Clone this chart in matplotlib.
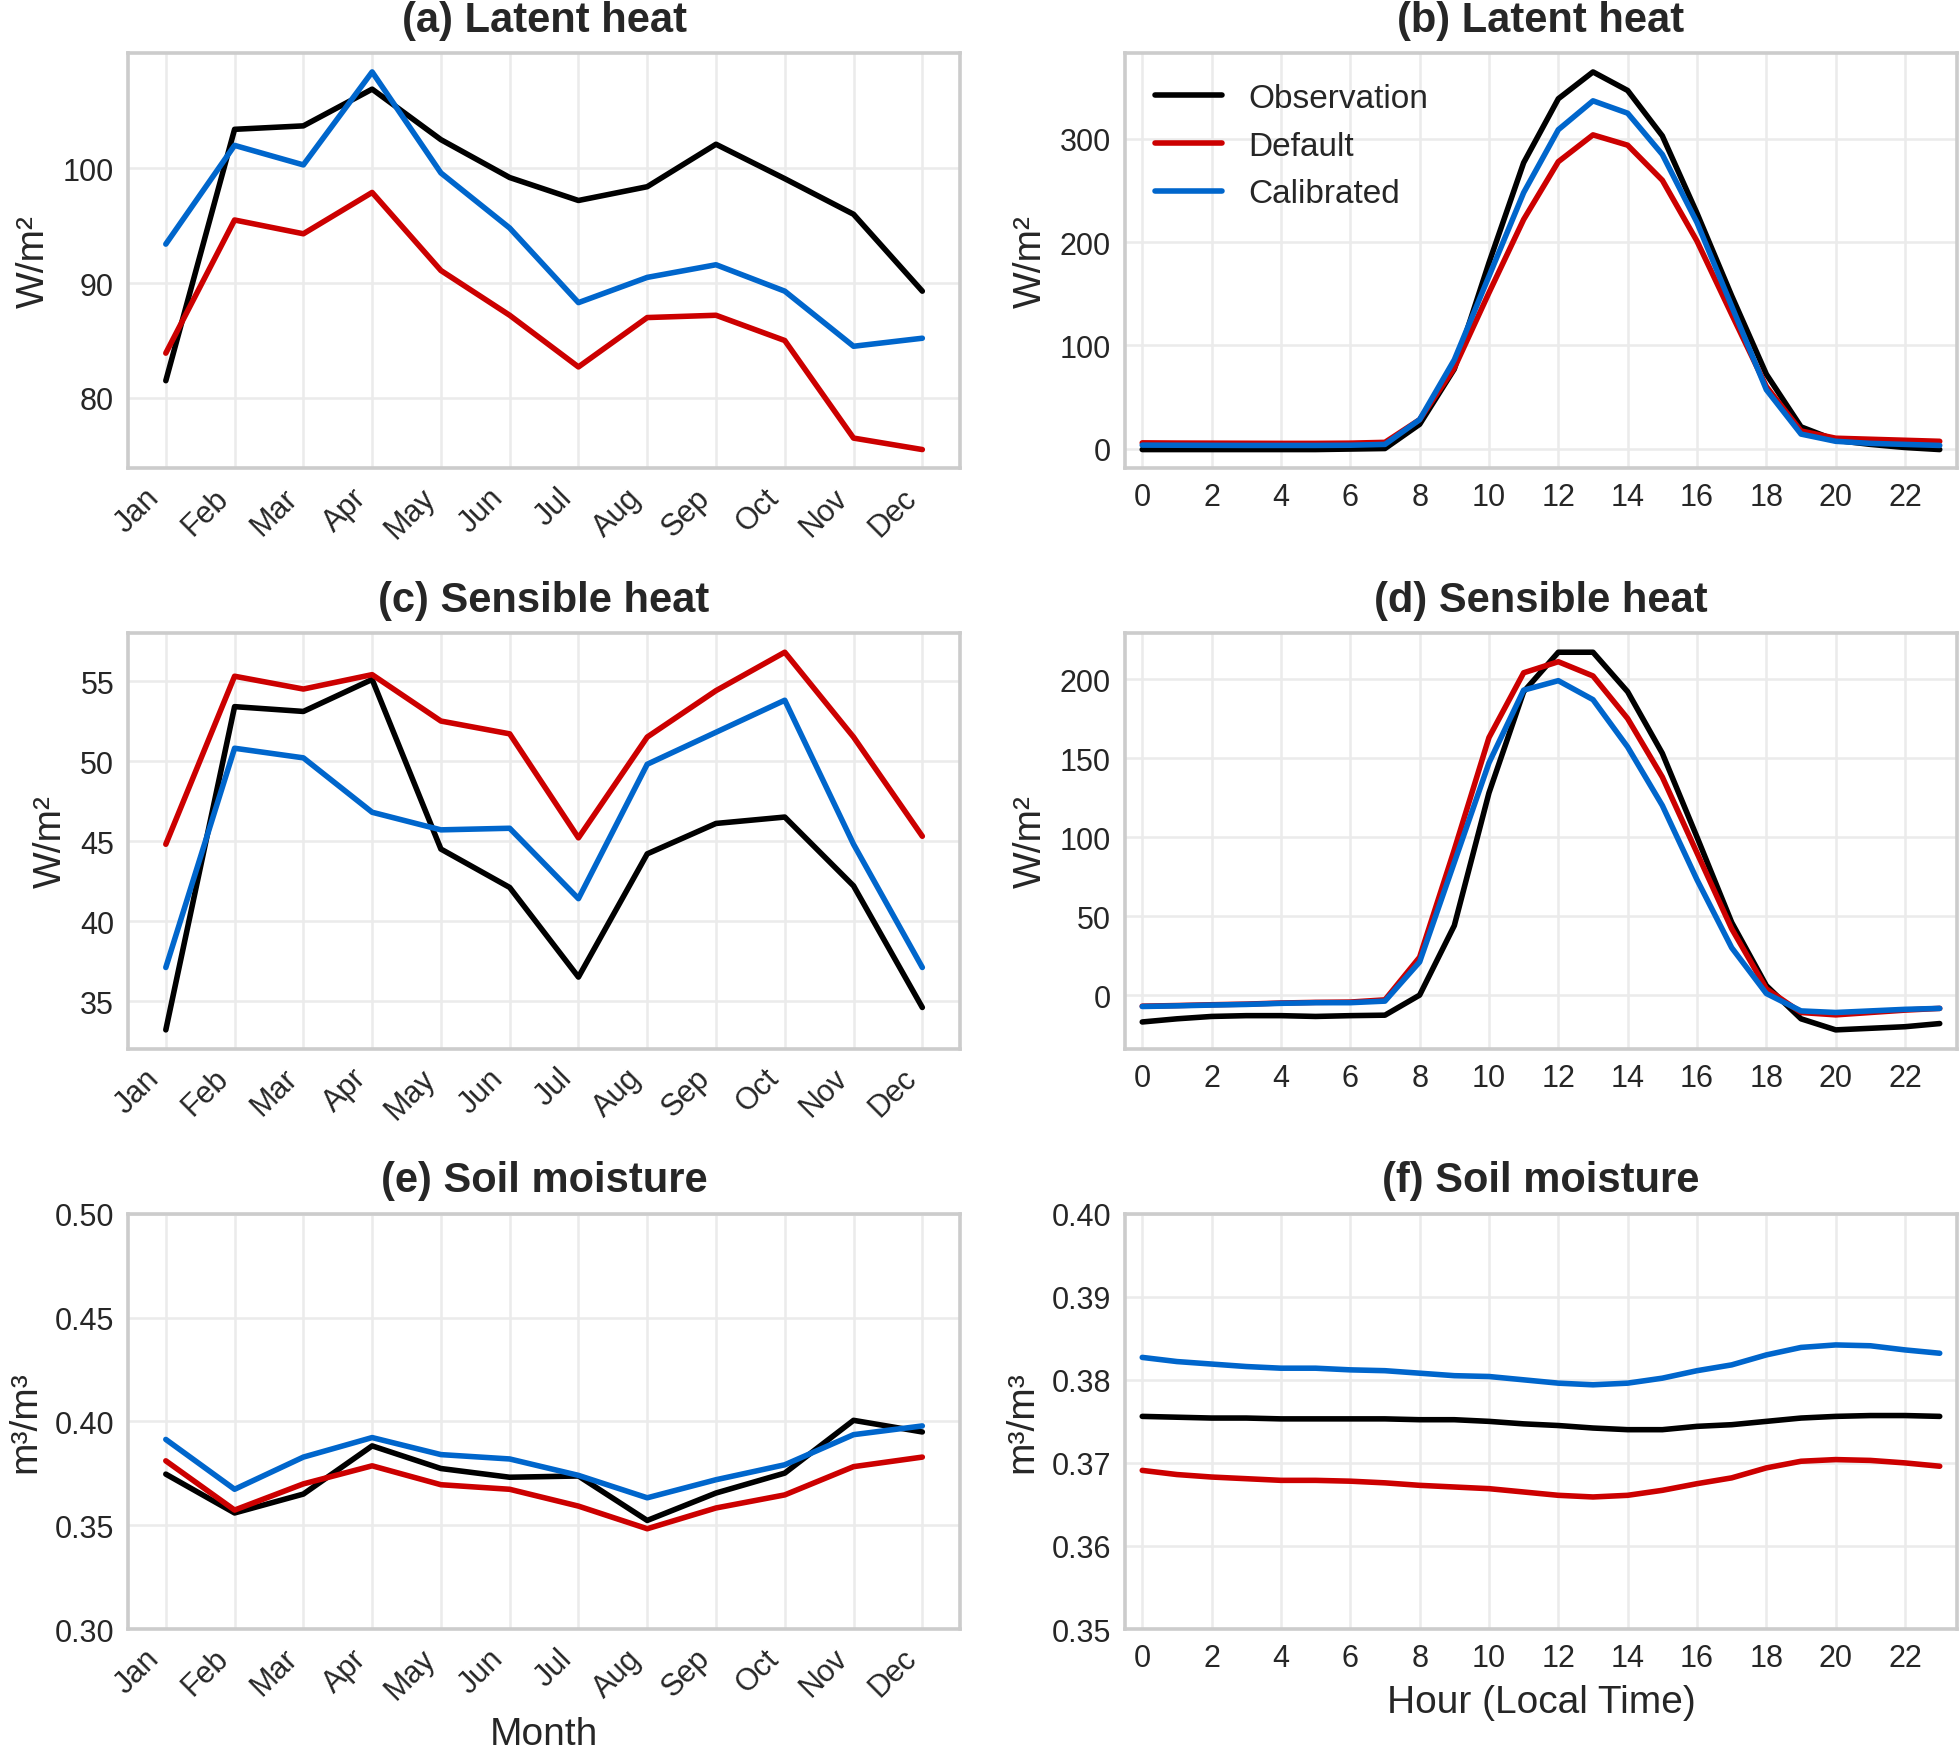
import matplotlib
matplotlib.use('Agg')
import matplotlib.pyplot as plt
from matplotlib.ticker import FormatStrFormatter

plt.rcParams['font.family'] = ['Liberation Sans', 'DejaVu Sans']
plt.rcParams['axes.edgecolor'] = '#cccccc'
plt.rcParams['axes.linewidth'] = 1.3
plt.rcParams['text.color'] = '#262626'
plt.rcParams['axes.labelcolor'] = '#262626'
plt.rcParams['xtick.color'] = '#262626'
plt.rcParams['ytick.color'] = '#262626'

months = ['Jan', 'Feb', 'Mar', 'Apr', 'May', 'Jun', 'Jul', 'Aug', 'Sep', 'Oct', 'Nov', 'Dec']
hours = list(range(24))

# (a) latent heat, monthly
le_mon_obs = [81.5, 103.4, 103.7, 106.9, 102.5, 99.2, 97.2, 98.4, 102.1, 99.1, 96.0, 89.3]
le_mon_def = [83.9, 95.5, 94.3, 97.9, 91.1, 87.2, 82.7, 87.0, 87.2, 85.0, 76.5, 75.5]
le_mon_cal = [93.4, 102.0, 100.3, 108.4, 99.6, 94.8, 88.3, 90.5, 91.6, 89.3, 84.5, 85.2]

# (b) latent heat, diurnal
le_hr_obs = [-1, -1, -1, -1, -1, -1, -0.5, 0, 23.5, 77, 180, 277, 339, 365, 347, 303, 228, 148, 72, 21, 8, 4, 1, -1]
le_hr_def = [5.5, 5.3, 5.2, 5.1, 5.0, 5.0, 5.2, 6, 28, 78, 151, 222, 278, 304, 294, 260, 201, 130, 60, 17, 10, 9, 8, 7]
le_hr_cal = [3.3, 3.2, 3.1, 3.0, 3.0, 3.0, 3.2, 4, 28, 86, 167, 248, 309, 337, 325, 285, 219, 138, 57, 14, 7, 5, 4, 3]

# (c) sensible heat, monthly
h_mon_obs = [33.2, 53.4, 53.1, 55.1, 44.5, 42.1, 36.5, 44.2, 46.1, 46.5, 42.2, 34.6]
h_mon_def = [44.8, 55.3, 54.5, 55.4, 52.5, 51.7, 45.2, 51.5, 54.4, 56.8, 51.5, 45.3]
h_mon_cal = [37.1, 50.8, 50.2, 46.8, 45.7, 45.8, 41.4, 49.8, 51.8, 53.8, 44.8, 37.1]

# (d) sensible heat, diurnal
h_hr_obs = [-17, -15, -13.5, -13, -13, -13.5, -13, -12.7, 0, 44, 128, 192, 217, 217, 192, 153, 100, 46, 6, -15, -22, -21, -20, -18]
h_hr_def = [-7, -6.6, -6.1, -5.7, -5.0, -4.6, -4.4, -3, 24, 92, 163, 204, 211, 202, 175, 138, 90, 42, 4, -11, -12.5, -11, -9.5, -8.4]
h_hr_cal = [-7.2, -6.8, -6.3, -5.9, -5.2, -4.8, -4.8, -3.8, 21, 84, 147, 193, 199, 187, 157, 120, 73, 30, 1, -10, -11, -10, -9, -8.4]

# (e) soil moisture, monthly
sm_mon_obs = [0.3746, 0.3559, 0.3650, 0.3882, 0.3773, 0.3731, 0.3737, 0.3523, 0.3655, 0.3751, 0.4005, 0.3949]
sm_mon_def = [0.3810, 0.3573, 0.3699, 0.3786, 0.3695, 0.3673, 0.3592, 0.3483, 0.3583, 0.3646, 0.3782, 0.3828]
sm_mon_cal = [0.3913, 0.3673, 0.3828, 0.3922, 0.3840, 0.3819, 0.3740, 0.3632, 0.3719, 0.3791, 0.3936, 0.3978]

# (f) soil moisture, diurnal
sm_hr_obs = [0.3756, 0.3755, 0.3754, 0.3754, 0.3753, 0.3753, 0.3753, 0.3753, 0.3752, 0.3752, 0.3750, 0.3747,
             0.3745, 0.3742, 0.3740, 0.3740, 0.3744, 0.3746, 0.3750, 0.3754, 0.3756, 0.3757, 0.3757, 0.3756]
sm_hr_def = [0.3691, 0.3686, 0.3683, 0.3681, 0.3679, 0.3679, 0.3678, 0.3676, 0.3673, 0.3671, 0.3669, 0.3665,
             0.3661, 0.3659, 0.3661, 0.3667, 0.3675, 0.3682, 0.3694, 0.3702, 0.3704, 0.3703, 0.3700, 0.3696]
sm_hr_cal = [0.3827, 0.3822, 0.3819, 0.3816, 0.3814, 0.3814, 0.3812, 0.3811, 0.3808, 0.3805, 0.3804, 0.3800,
             0.3796, 0.3794, 0.3796, 0.3802, 0.3811, 0.3818, 0.3830, 0.3839, 0.3842, 0.3841, 0.3836, 0.3832]

colors = {'Observation': 'black', 'Default': '#cc0000', 'Calibrated': '#0066cc'}

fig, axes = plt.subplots(3, 2, figsize=(9.8, 8.745), dpi=200)
plt.subplots_adjust(left=0.0653, right=0.9985, top=0.9691, bottom=0.068, wspace=0.198, hspace=0.397)

panels = [
    (axes[0, 0], '(a) Latent heat', 'W/m²', 'month', (le_mon_obs, le_mon_def, le_mon_cal), [80, 90, 100]),
    (axes[0, 1], '(b) Latent heat', 'W/m²', 'hour', (le_hr_obs, le_hr_def, le_hr_cal), [0, 100, 200, 300]),
    (axes[1, 0], '(c) Sensible heat', 'W/m²', 'month', (h_mon_obs, h_mon_def, h_mon_cal), [35, 40, 45, 50, 55]),
    (axes[1, 1], '(d) Sensible heat', 'W/m²', 'hour', (h_hr_obs, h_hr_def, h_hr_cal), [0, 50, 100, 150, 200]),
    (axes[2, 0], '(e) Soil moisture', 'm³/m³', 'month', (sm_mon_obs, sm_mon_def, sm_mon_cal), None),
    (axes[2, 1], '(f) Soil moisture', 'm³/m³', 'hour', (sm_hr_obs, sm_hr_def, sm_hr_cal), None),
]

for ax, title, ylabel, kind, series, yticks in panels:
    x = list(range(12)) if kind == 'month' else hours
    for name, vals in zip(['Observation', 'Default', 'Calibrated'], series):
        ax.plot(x, vals, color=colors[name], lw=2.0, label=name, solid_capstyle='round')
    ax.set_title(title, fontsize=15, fontweight='bold', pad=8)
    ax.set_ylabel(ylabel, fontsize=14)
    ax.grid(True, color='#ebebeb', lw=0.9)
    ax.set_axisbelow(True)
    ax.tick_params(axis='both', length=0, pad=5, labelsize=11)
    if yticks is not None:
        ax.set_yticks(yticks)
    if kind == 'month':
        ax.set_xticks(range(12))
        ax.set_xticklabels(months, rotation=45, ha='right')
    else:
        ax.set_xticks(range(0, 24, 2))
        ax.set_xlim(-0.5, 23.5)

axes[2, 0].set_ylim(0.30, 0.50)
axes[2, 0].set_yticks([0.30, 0.35, 0.40, 0.45, 0.50])
axes[2, 0].yaxis.set_major_formatter(FormatStrFormatter('%.2f'))
axes[2, 1].set_ylim(0.35, 0.40)
axes[2, 1].set_yticks([0.35, 0.36, 0.37, 0.38, 0.39, 0.40])
axes[2, 1].yaxis.set_major_formatter(FormatStrFormatter('%.2f'))

axes[2, 0].set_xlabel('Month', fontsize=14)
axes[2, 1].set_xlabel('Hour (Local Time)', fontsize=14)

axes[0, 1].legend(loc='upper left', frameon=False, fontsize=12)

plt.savefig('out.png', dpi=200)
